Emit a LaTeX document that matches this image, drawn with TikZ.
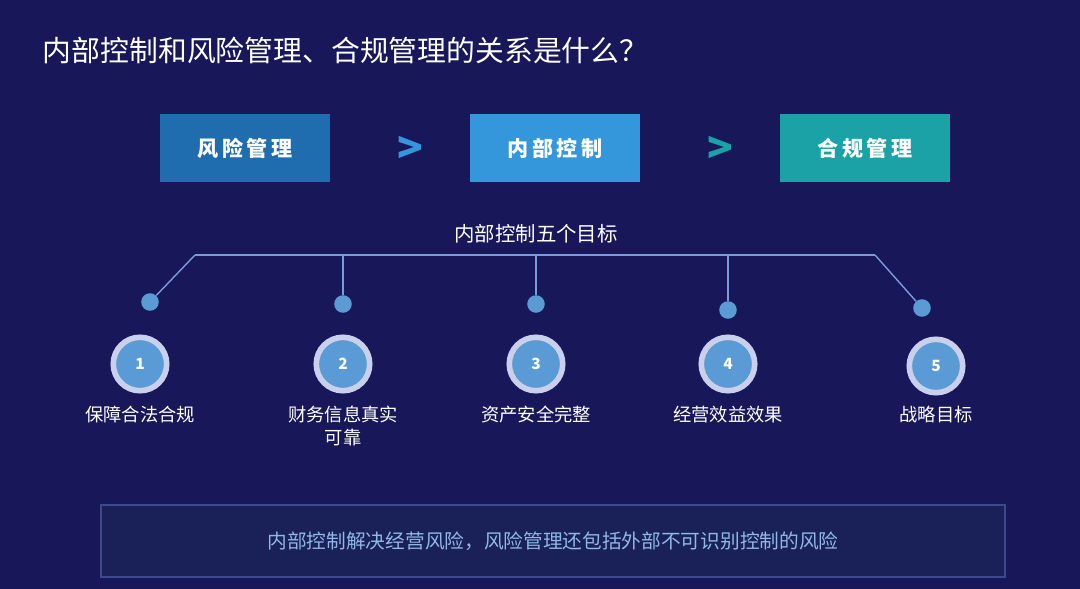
\documentclass[tikz,border=0pt]{standalone}
\usepackage{fontspec}
\setmainfont{Noto Sans CJK SC}
\definecolor{bgnavy}{HTML}{17175A}
\definecolor{riskblue}{HTML}{1F6DAE}
\definecolor{ctrlblue}{HTML}{3497DC}
\definecolor{compteal}{HTML}{1AA2A6}
\definecolor{linkblue}{HTML}{7C9BD8}
\definecolor{dotblue}{HTML}{5B9BD5}
\definecolor{ringgrey}{HTML}{C9D0EC}
\definecolor{notefill}{HTML}{1A2158}
\definecolor{noteline}{HTML}{3C4A8C}
\definecolor{notetext}{HTML}{8FB8E8}
\tikzset{
    topbox/.style={
        rectangle,
        minimum width=121pt,
        minimum height=48pt,
        text=white,
        font=\fontsize{15}{18}\selectfont\bfseries
    },
    gt/.style={
        font=\fontsize{30}{30}\selectfont\bfseries
    },
    smalldot/.style={
        circle,
        fill=dotblue,
        minimum size=12.5pt,
        inner sep=0pt
    },
    bigring/.style={
        circle,
        fill=dotblue,
        draw=ringgrey,
        line width=4pt,
        minimum size=38pt,
        inner sep=0pt,
        text=white,
        font=\fontsize{11}{11}\selectfont\bfseries
    },
    goal/.style={
        text=white,
        align=center,
        font=\fontsize{13}{16.5}\selectfont
    },
    link/.style={
        draw=linkblue,
        line width=1pt
    }
}
\begin{document}
\begin{tikzpicture}[x=0.025cm, y=-0.025cm]
\fill[bgnavy] (0,0) rectangle (1080,589);
\useasboundingbox (0,0) rectangle (1080,589);

% Title
\node[anchor=west, text=white, font=\fontsize{20.5}{23}\selectfont] (title) at (38,50) {内部控制和风险管理、合规管理的关系是什么？};

% Top boxes
\node[topbox, fill=riskblue] (risk) at (245,148) {风\,险\,管\,理};
\node[topbox, fill=ctrlblue] (ctrl) at (555,148) {内\,部\,控\,制};
\node[topbox, fill=compteal] (comp) at (865,148) {合\,规\,管\,理};
\node[gt, text=ctrlblue] (gt1) at (410,150) {>};
\node[gt, text=compteal] (gt2) at (720,150) {>};

% Five goals
\node[text=white, font=\fontsize{14.5}{18}\selectfont] (goals) at (536,234) {内部控制五个目标};
\coordinate (hl) at (195,255);
\coordinate (hr) at (875,255);
\draw[link] (hl) -- (hr);

\node[smalldot] (d1) at (150,302) {};
\node[smalldot] (d2) at (343,304) {};
\node[smalldot] (d3) at (536,304) {};
\node[smalldot] (d4) at (728,310) {};
\node[smalldot] (d5) at (922,308) {};

\draw[link] (hl) -- (d1);
\draw[link] (d2 |- hl) -- (d2);
\draw[link] (d3 |- hl) -- (d3);
\draw[link] (d4 |- hl) -- (d4);
\draw[link] (hr) -- (d5);

\node[bigring] (c1) at (140,364) {1};
\node[bigring] (c2) at (343,364) {2};
\node[bigring] (c3) at (536,364) {3};
\node[bigring] (c4) at (728,364) {4};
\node[bigring] (c5) at (936,366) {5};

\node[goal, anchor=north] (g1) at (140,401) {保障合法合规};
\node[goal, anchor=north] (g2) at (343,401) {财务信息真实\\可靠};
\node[goal, anchor=north] (g3) at (536,401) {资产安全完整};
\node[goal, anchor=north] (g4) at (728,401) {经营效益效果};
\node[goal, anchor=north] (g5) at (936,401) {战略目标};

% Note
\node[draw=noteline, fill=notefill, line width=1pt, minimum width=643pt, minimum height=51pt, text=notetext, font=\fontsize{14}{16}\selectfont] (note) at (553,541) {内部控制解决经营风险，风险管理还包括外部不可识别控制的风险};
\end{tikzpicture}
\end{document}
